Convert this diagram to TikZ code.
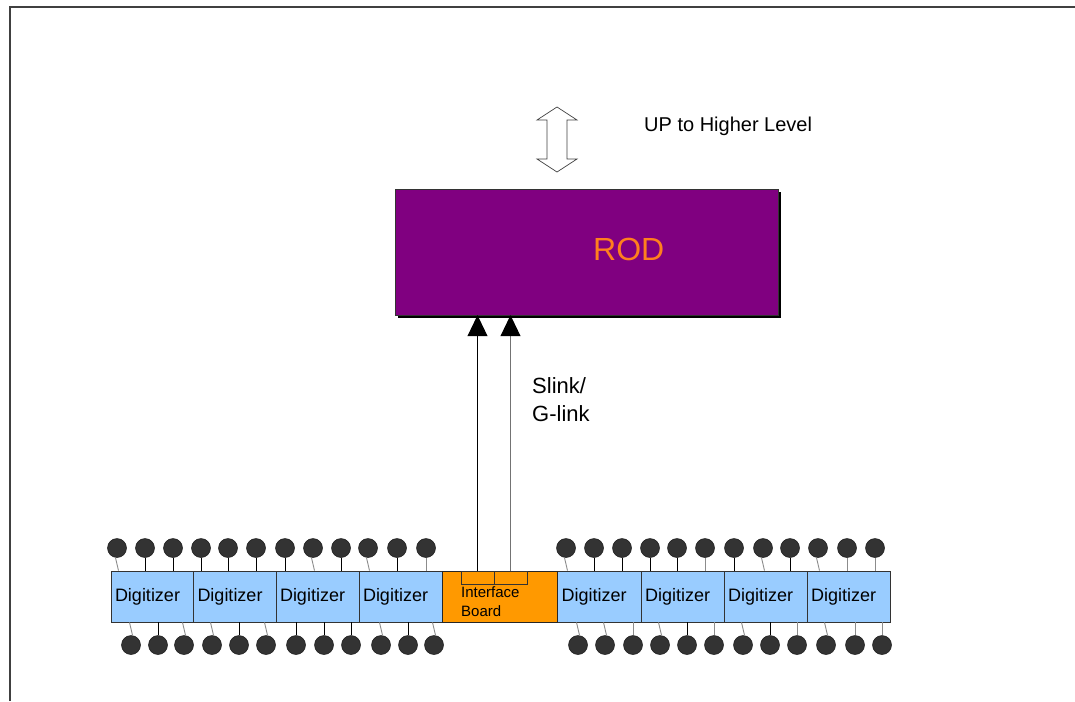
\documentclass[tikz,border=0pt]{standalone}
\usepackage{fontspec}
\setmainfont{Liberation Sans}
\usetikzlibrary{arrows.meta}
\definecolor{rodpurple}{HTML}{800080}
\definecolor{rodtext}{HTML}{FF7F1E}
\definecolor{digblue}{HTML}{99CCFF}
\definecolor{ifboard}{HTML}{FF9900}
\definecolor{ballgray}{HTML}{333333}
\definecolor{framegray}{HTML}{404040}
\tikzset{
  frameline/.style={draw=framegray, line width=1.2pt},
  rodbox/.style={draw=black!80, fill=rodpurple, minimum width=383, minimum height=126, inner sep=0},
  digbox/.style={draw=black!80, fill=digblue, line width=0.8pt, minimum width=83, minimum height=51,
    text width=75, align=left, inner xsep=4, inner ysep=0, font=\fontsize{18}{20}\selectfont},
  ifbox/.style={draw=black!85, fill=ifboard, line width=0.8pt, minimum width=115, minimum height=51, inner sep=0},
  ifslot/.style={draw=black!80, line width=0.8pt, minimum width=33, minimum height=13, inner sep=0},
  ball/.style={circle, fill=ballgray, draw=black!90, line width=0.5pt, minimum size=19, inner sep=0},
  stemb/.style={draw=black, line width=0.9pt},
  stemg/.style={draw=black!45, line width=0.9pt},
  link/.style={line width=0.9pt, -{Triangle[length=21pt,width=20pt]}},
  txt/.style={inner sep=0, anchor=base west},
}
\begin{document}
\begin{tikzpicture}[x=1pt,y=-1pt]
\useasboundingbox (0,0) rectangle (1075,701);
% frame
\draw[frameline] (10,701) -- (10,7) -- (1075,7);

% up/down double arrow
\draw[draw=black!75, fill=white, line width=0.7pt]
  (557,107) -- (577,120) -- (567,120) -- (567,159) -- (577,159) -- (557,172)
  -- (537,159) -- (547,159) -- (547,120) -- (537,120) -- cycle;
\node[txt, font=\fontsize{20}{22}\selectfont] (up) at (644,131) {UP to Higher Level};

% ROD
\fill[black] (398,192) rectangle (781,318);
\node[rodbox] (rod) at (586.5,252) {};
\node[txt, text=rodtext, font=\fontsize{32}{36}\selectfont] (rodlabel) at (593,260) {ROD};

% digitizers
\foreach \i/\x in {1/152.5,2/235,3/317.5,4/400.5}{
  \node[digbox] (dl\i) at (\x,596.5) {Digitizer};
}
\node[digbox, minimum width=84] (dr1) at (599,596.5) {Digitizer};
\foreach \i/\x in {2/682.5,3/765.5,4/848.5}{
  \node[digbox] (dr\i) at (\x,596.5) {Digitizer};
}
% interface board
\node[ifbox] (ifb) at (499.5,596.5) {};
\node[ifslot, anchor=north] (ifa) at (477.5,571) {};
\node[ifslot, anchor=north] (ifc) at (510.5,571) {};
\node[txt, font=\fontsize{15}{18}\selectfont] (if1) at (461,597) {Interface};
\node[txt, font=\fontsize{15}{18}\selectfont] (if2) at (461,616) {Board};

% links to ROD
\draw[link, black] (ifa.north) -- (ifa.north |- rod.south);
\draw[link, draw=black!55, -{Triangle[length=21pt,width=20pt,color=black]}] (ifc.north) -- (ifc.north |- rod.south);
\node[txt, font=\fontsize{22}{24}\selectfont] (sl1) at (532,393) {Slink/};
\node[txt, font=\fontsize{22}{24}\selectfont] (sl2) at (532,421) {G-link};

% top balls
\foreach \i/\x/\s/\sl in {1/117/stemg/-1.5,2/145/stemb/0,3/173/stemb/0,4/201/stemb/0,5/228/stemb/0,6/256/stemb/0,
  7/285/stemb/0,8/313/stemg/-1.5,9/341/stemb/0,10/368/stemg/-1.5,11/397/stemb/0,12/426/stemg/0,
  13/566/stemg/-1.5,14/594/stemb/0,15/622/stemb/0,16/650/stemb/0,17/677/stemb/0,18/705/stemg/0,
  19/734/stemb/0,20/763/stemg/-1.5,21/790/stemb/0,22/818/stemg/-1.5,23/847/stemg/0,24/875/stemg/0}{
  \node[ball] (t\i) at (\x,548) {};
  \draw[\s] ([xshift=\sl]t\i.south) -- ([xshift=-\sl]t\i.south |- dl1.north);
}
% bottom balls
\foreach \i/\x/\s/\sl in {1/131/stemg/1.5,2/158/stemb/0,3/184/stemg/1.5,4/212/stemg/1.5,5/239/stemb/0,6/266/stemg/1.5,
  7/296/stemb/0,8/324/stemb/0,9/351/stemb/0,10/381/stemg/1.5,11/408/stemb/0,12/434/stemg/1.5,
  13/578/stemg/1.5,14/605/stemg/1.5,15/633/stemg/0,16/660/stemg/1.5,17/687/stemb/0,18/714/stemg/0,
  19/743/stemg/1.5,20/770/stemb/0,21/797/stemg/0,22/826/stemg/1.5,23/855/stemg/0,24/882/stemg/0}{
  \node[ball] (b\i) at (\x,645) {};
  \draw[\s] ([xshift=-\sl]b\i.north |- dl1.south) -- ([xshift=\sl]b\i.north);
}
\end{tikzpicture}
\end{document}
